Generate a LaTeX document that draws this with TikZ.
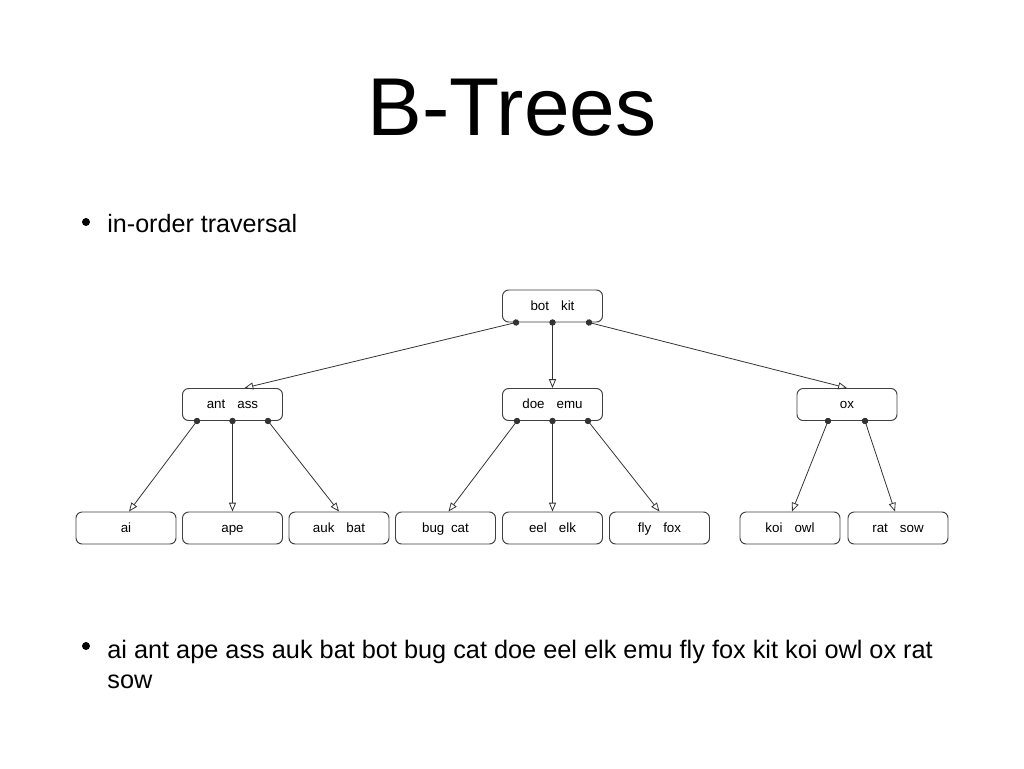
\documentclass[tikz,border=0pt]{standalone}
\usepackage{fontspec}
\setmainfont{Liberation Sans}
\usetikzlibrary{arrows.meta,calc}
\tikzset{
  key/.style={draw=black!75, line width=0.55pt, rounded corners=3.5pt, minimum width=100*0.02cm, minimum height=32*0.02cm, inner sep=0pt, text height=5.6pt, text depth=0.6pt, font=\fontsize{7.6pt}{9pt}\selectfont},
  edge/.style={draw=black!80, line width=0.45pt, {Circle[length=3.6pt]}-{Triangle[open,length=5pt,width=4pt]}, shorten <=-1.8pt},
  bullet/.style={fill=black},
}
\newcommand{\gp}{\hspace{0.9em}}
\begin{document}
\begin{tikzpicture}[x=0.02cm,y=-0.02cm]
\useasboundingbox[fill=white] (0,0) rectangle (1024,768);
% title and bullets
\node (title) at (512,108) {\fontsize{46.7pt}{56pt}\selectfont B-Trees};
\fill[bullet] (86,222) circle (4);
\node[anchor=base west, inner sep=0pt, font=\fontsize{14.3pt}{17pt}\selectfont] (t1) at (107,232) {in-order traversal};
\fill[bullet] (86,646) circle (4);
\node[anchor=north west, inner sep=0pt, align=left, font=\fontsize{14.4pt}{17pt}\selectfont] (t2) at (107,640) {ai ant ape ass auk bat bot bug cat doe eel elk emu fly fox kit koi owl ox rat\\sow};
% tree nodes
\node[key] (root) at (552.5,306) {bot\gp kit};
\node[key] (a) at (232.5,404.5) {ant\gp ass};
\node[key] (d) at (552.5,404.5) {doe\gp emu};
\node[key] (o) at (847,404.5) {ox};
\node[key] (l1) at (126,528) {ai};
\node[key] (l2) at (232.5,528) {ape};
\node[key] (l3) at (339,528) {auk\gp bat};
\node[key] (l4) at (445.5,528) {bug\hspace{0.5em}cat};
\node[key] (l5) at (552.5,528) {eel\gp elk};
\node[key] (l6) at (659.5,528) {fly\gp fox};
\node[key] (l7) at (790,528) {koi\gp owl};
\node[key] (l8) at (898,528) {rat\gp sow};
% edges
\draw[edge] ($(root.south)+(-36.5,0)$) -- ($(a.north)+(12,0)$);
\draw[edge] (root.south) -- (d.north);
\draw[edge] ($(root.south)+(36.5,0)$) -- (o.north);
\draw[edge] ($(a.south)+(-35.5,0)$) -- ($(l1.north)+(3,0)$);
\draw[edge] (a.south) -- (l2.north);
\draw[edge] ($(a.south)+(35.5,0)$) -- (l3.north);
\draw[edge] ($(d.south)+(-35.5,0)$) -- ($(l4.north)+(3,0)$);
\draw[edge] (d.south) -- (l5.north);
\draw[edge] ($(d.south)+(35.5,0)$) -- (l6.north);
\draw[edge] ($(o.south)+(-19,0)$) -- ($(l7.north)+(2,0)$);
\draw[edge] ($(o.south)+(18,0)$) -- ($(l8.north)+(-3,0)$);
\end{tikzpicture}
\end{document}
